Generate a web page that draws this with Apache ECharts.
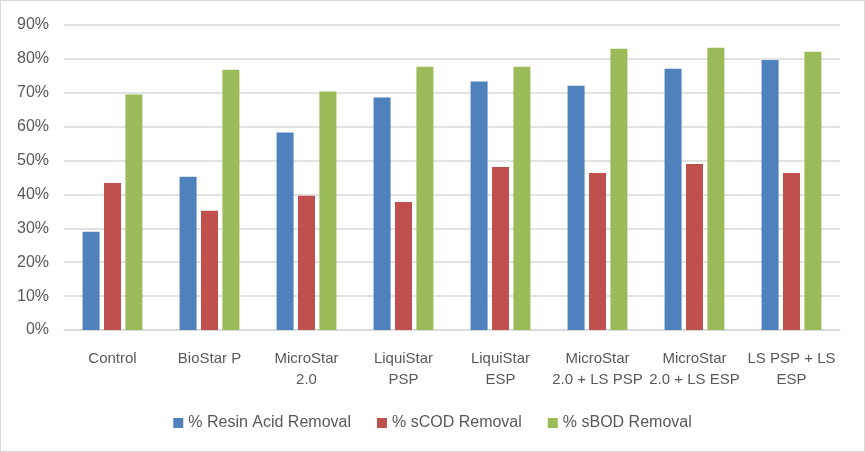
<!DOCTYPE html>
<html>
<head>
<meta charset="utf-8">
<script src="https://cdn.jsdelivr.net/npm/echarts@6/dist/echarts.min.js"></script>
<style>
  html, body { margin: 0; padding: 0; background: #fff; }
  #chart { width: 865px; height: 452px; box-sizing: border-box; border: 1px solid #d9d9d9; }
</style>
</head>
<body>
<div id="chart"></div>
<script>
// categories (wrapped like the original axis labels)
var categories = ['Control', 'BioStar P', 'MicroStar\n2.0', 'LiquiStar\nPSP', 'LiquiStar\nESP',
                  'MicroStar\n2.0 + LS PSP', 'MicroStar\n2.0 + LS ESP', 'LS PSP + LS\nESP'];
var resinAcid = [29.0, 45.2, 58.3, 68.6, 73.3, 72.1, 77.1, 79.7];
var sCOD      = [43.4, 35.2, 39.6, 37.8, 48.1, 46.3, 49.0, 46.3];
var sBOD      = [69.5, 76.8, 70.4, 77.7, 77.7, 83.0, 83.3, 82.1];
var seriesNames = ['% Resin Acid Removal', '% sCOD Removal', '% sBOD Removal'];
var colors = ['#4f81bd', '#c0504d', '#9bbb59'];

var chart = echarts.init(document.getElementById('chart'));
var font = 'Liberation Sans, Arial, sans-serif';

function bar(name, data, color) {
    return {
        name: name,
        type: 'bar',
        data: data,
        barWidth: 17,
        barGap: '26%',
        itemStyle: { color: color },
        emphasis: { disabled: true }
    };
}

chart.setOption({
    animation: false,
    color: colors,
    textStyle: { fontFamily: font },
    grid: { left: 63, right: 24, top: 24, bottom: 121 },
    legend: {
        top: 409,
        left: 'center',
        itemWidth: 10,
        itemHeight: 10,
        itemGap: 26,
        icon: 'rect',
        textStyle: { color: '#595959', fontSize: 16, fontFamily: font },
        data: seriesNames
    },
    xAxis: {
        type: 'category',
        data: categories,
        axisLine: { lineStyle: { color: '#d9d9d9', width: 1.5 } },
        axisTick: { show: false },
        axisLabel: {
            color: '#595959', fontSize: 15, lineHeight: 21, margin: 18,
            interval: 0, fontFamily: font
        }
    },
    yAxis: {
        type: 'value',
        min: 0,
        max: 90,
        interval: 10,
        axisLine: { show: false },
        axisTick: { show: false },
        splitLine: { lineStyle: { color: '#d9d9d9', width: 1.5 } },
        axisLabel: {
            color: '#595959', fontSize: 16, margin: 15, fontFamily: font,
            formatter: '{value}%'
        }
    },
    series: [
        bar(seriesNames[0], resinAcid, colors[0]),
        bar(seriesNames[1], sCOD, colors[1]),
        bar(seriesNames[2], sBOD, colors[2])
    ]
});
</script>
</body>
</html>
